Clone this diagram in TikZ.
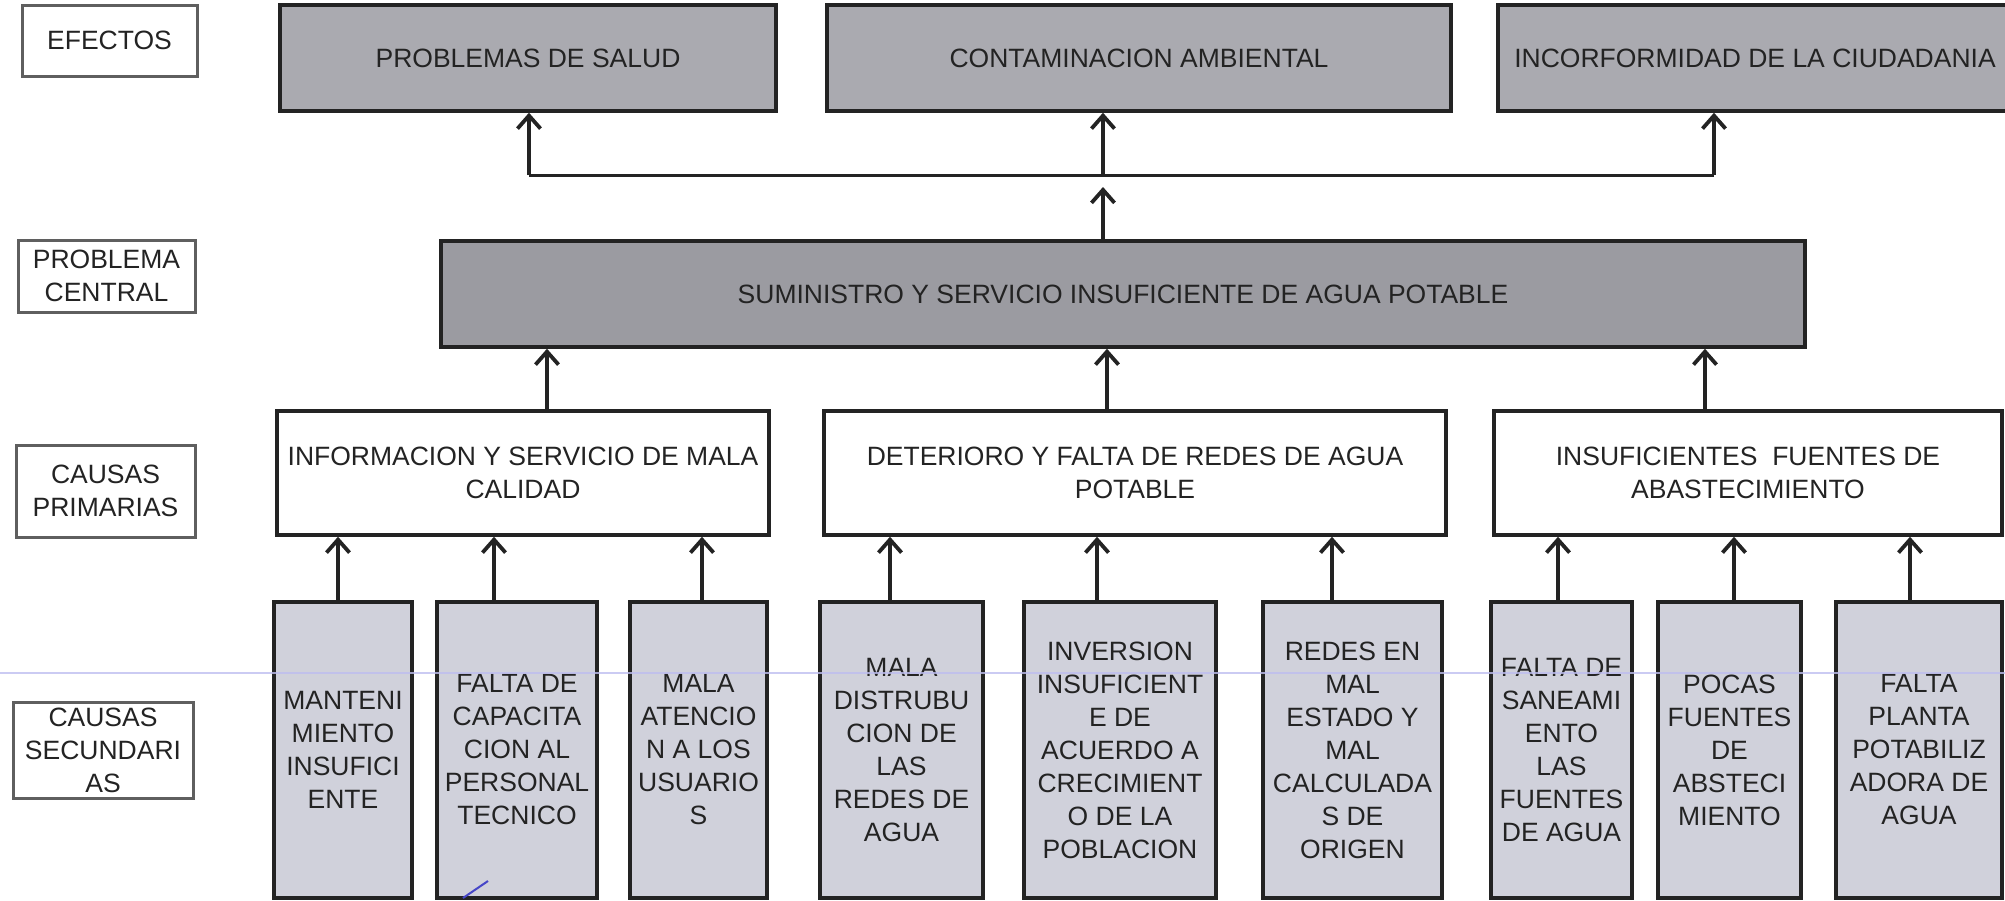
\documentclass[tikz,border=0pt]{standalone}
\usepackage{fontspec}
\setmainfont{Liberation Sans}
\usetikzlibrary{arrows.meta}
\definecolor{effgray}{RGB}{170,170,176}
\definecolor{cengray}{RGB}{155,155,161}
\definecolor{secgray}{RGB}{208,209,219}
\definecolor{ink}{RGB}{35,35,35}
\definecolor{lblborder}{RGB}{95,95,95}
\definecolor{ruleblue}{RGB}{190,190,240}
\definecolor{penblue}{RGB}{70,70,200}
\tikzset{
  box/.style={draw=ink, line width=3.5pt, inner sep=0pt, align=center, text=ink,
    font=\fontsize{26.5}{33}\selectfont},
  effbox/.style={box, fill=effgray},
  cenbox/.style={box, fill=cengray},
  primbox/.style={box, fill=white},
  secbox/.style={box, fill=secgray},
  lblbox/.style={box, line width=3pt, draw=lblborder, fill=white},
  arr/.style={draw=ink, line width=3.8pt, -{Straight Barb[length=13pt,width=23pt]}},
  link/.style={draw=ink, line width=3pt},
}
\newcommand\mybox[7]{\node[#2, minimum width={#5-#3}, minimum height={#6-#4}] (#1) at ({(#3+#5)/2},{(#4+#6)/2}) {#7};}
\begin{document}
\begin{tikzpicture}[x=1pt,y=-1pt]
\path[use as bounding box, clip] (0,0) rectangle (2005,900);
\fill[white] (0,0) rectangle (2005,900);
% left labels
\mybox{lef}{lblbox}{22}{5}{197}{76}{EFECTOS}
\mybox{lpc}{lblbox}{18}{240}{195}{312}{PROBLEMA\\CENTRAL}
\mybox{lcp}{lblbox}{16}{445}{195}{537}{CAUSAS\\PRIMARIAS}
\mybox{lcs}{lblbox}{13}{702}{193}{798}{CAUSAS\\SECUNDARI\\AS}
% effects
\mybox{e1}{effbox}{280}{5}{776}{111}{PROBLEMAS DE SALUD}
\mybox{e2}{effbox}{827}{5}{1451}{111}{CONTAMINACION AMBIENTAL}
\mybox{e3}{effbox}{1498}{5}{2012}{111}{INCORFORMIDAD DE LA CIUDADANIA}
% central
\mybox{cen}{cenbox}{441}{241}{1805}{347}{SUMINISTRO Y SERVICIO INSUFICIENTE DE AGUA POTABLE}
% primary
\mybox{p1}{primbox}{277}{411}{769}{535}{INFORMACION Y SERVICIO DE MALA\\CALIDAD}
\mybox{p2}{primbox}{824}{411}{1446}{535}{DETERIORO Y FALTA DE REDES DE AGUA\\POTABLE}
\mybox{p3}{primbox}{1494}{411}{2002}{535}{INSUFICIENTES~~FUENTES DE\\ABASTECIMIENTO}
% secondary
\mybox{s1}{secbox}{274}{602}{412}{898}{MANTENI\\MIENTO\\INSUFICI\\ENTE}
\mybox{s2}{secbox}{437}{602}{597}{898}{FALTA DE\\CAPACITA\\CION AL\\PERSONAL\\TECNICO}
\mybox{s3}{secbox}{630}{602}{767}{898}{MALA\\ATENCIO\\N A LOS\\USUARIO\\S}
\mybox{s4}{secbox}{820}{602}{983}{898}{MALA\\DISTRUBU\\CION DE\\LAS\\REDES DE\\AGUA}
\mybox{s5}{secbox}{1024}{602}{1216}{898}{INVERSION\\INSUFICIENT\\E DE\\ACUERDO A\\CRECIMIENT\\O DE LA\\POBLACION}
\mybox{s6}{secbox}{1263}{602}{1442}{898}{REDES EN\\MAL\\ESTADO Y\\MAL\\CALCULADA\\S DE\\ORIGEN}
\mybox{s7}{secbox}{1491}{602}{1632}{898}{FALTA DE\\SANEAMI\\ENTO\\LAS\\FUENTES\\DE AGUA}
\mybox{s8}{secbox}{1658}{602}{1801}{898}{POCAS\\FUENTES\\DE\\ABSTECI\\MIENTO}
\mybox{s9}{secbox}{1836}{602}{2002}{898}{FALTA\\PLANTA\\POTABILIZ\\ADORA DE\\AGUA}
% effect connectors
\coordinate (hlL) at (529,175);
\coordinate (hlM) at (1103,175);
\coordinate (hlR) at (1714,175);
\draw[link] (hlL) -- (hlR);
\draw[arr] (hlL) -- (hlL |- e1.south);
\draw[arr] (hlM) -- (hlM |- e2.south);
\draw[arr] (hlR) -- (hlR |- e3.south);
\draw[arr] (hlM |- cen.north) -- ([yshift=-12pt]hlM);
% primary -> central
\draw[arr] ([xshift=24pt]p1.north) -- ([xshift=24pt]p1.north |- cen.south);
\draw[arr] ([xshift=-28pt]p2.north) -- ([xshift=-28pt]p2.north |- cen.south);
\draw[arr] ([xshift=-43pt]p3.north) -- ([xshift=-43pt]p3.north |- cen.south);
% secondary -> primary
\draw[arr] ([xshift=-5pt]s1.north) -- ([xshift=-5pt]s1.north |- p1.south);
\draw[arr] ([xshift=-23pt]s2.north) -- ([xshift=-23pt]s2.north |- p1.south);
\draw[arr] ([xshift=3.5pt]s3.north) -- ([xshift=3.5pt]s3.north |- p1.south);
\draw[arr] ([xshift=-11.5pt]s4.north) -- ([xshift=-11.5pt]s4.north |- p2.south);
\draw[arr] ([xshift=-23pt]s5.north) -- ([xshift=-23pt]s5.north |- p2.south);
\draw[arr] ([xshift=-20.5pt]s6.north) -- ([xshift=-20.5pt]s6.north |- p2.south);
\draw[arr] ([xshift=-3.5pt]s7.north) -- ([xshift=-3.5pt]s7.north |- p3.south);
\draw[arr] ([xshift=4.5pt]s8.north) -- ([xshift=4.5pt]s8.north |- p3.south);
\draw[arr] ([xshift=-9pt]s9.north) -- ([xshift=-9pt]s9.north |- p3.south);
% faint ruled line and pen mark of the scan
\draw[ruleblue, line width=2pt, opacity=0.8] (0,673) -- (2005,673);
\draw[penblue, line width=2pt] (463,898) -- (488,881);
\end{tikzpicture}
\end{document}
